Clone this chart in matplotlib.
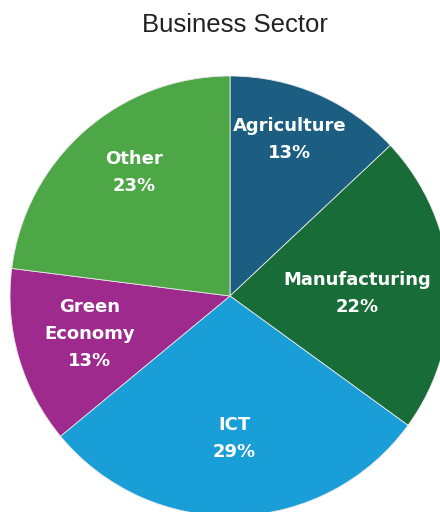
"""
Business sector breakdown as a pie chart.
"""
from __future__ import annotations

import numpy as np
import matplotlib.pyplot as plt

SECTORS = ["Agriculture", "Manufacturing", "ICT", "Green\nEconomy", "Other"]
SHARES = [13, 22, 29, 13, 23]
COLORS = ["#1b5e82", "#186c38", "#1a9ed8", "#9e2a8e", "#4da746"]

# label placement: fraction of radius, and a small nudge (degrees) off the wedge middle
LABEL_RADII = [0.76, 0.58, 0.65, 0.66, 0.71]
LABEL_NUDGE = [2.4, -2.6, 0.0, -1.0, -3.4]

W, H = 440, 512
CENTER = (230, H - 296)
RADIUS = 220


def plot_pie() -> None:
    fig = plt.figure(figsize=(W / 100, H / 100), dpi=100)
    ax = fig.add_axes([0, 0, 1, 1])

    wedges, _ = ax.pie(
        SHARES,
        colors=COLORS,
        startangle=90,
        counterclock=False,
        center=CENTER,
        radius=RADIUS,
        wedgeprops={"edgecolor": "#e8e8e8", "linewidth": 0.6},
    )

    for wedge, name, share, r, nudge in zip(
        wedges, SECTORS, SHARES, LABEL_RADII, LABEL_NUDGE, strict=True
    ):
        mid = np.deg2rad((wedge.theta1 + wedge.theta2) / 2 + nudge)
        x = CENTER[0] + r * RADIUS * np.cos(mid)
        y = CENTER[1] + r * RADIUS * np.sin(mid)
        ax.text(
            x, y, f"{name}\n{share}%",
            ha="center", va="center",
            color="white", fontsize=13, fontweight="bold",
            family="DejaVu Sans", linespacing=1.65,
        )

    ax.set_xlim(0, W)
    ax.set_ylim(0, H)
    ax.set_aspect("equal")
    ax.axis("off")

    fig.text(235 / W, 1 - 25 / H, "Business Sector",
             ha="center", va="center", fontsize=18.5,
             family="Liberation Sans", color="#222222")

    fig.savefig("out.png", dpi=100)
    plt.close(fig)


if __name__ == "__main__":
    plot_pie()
